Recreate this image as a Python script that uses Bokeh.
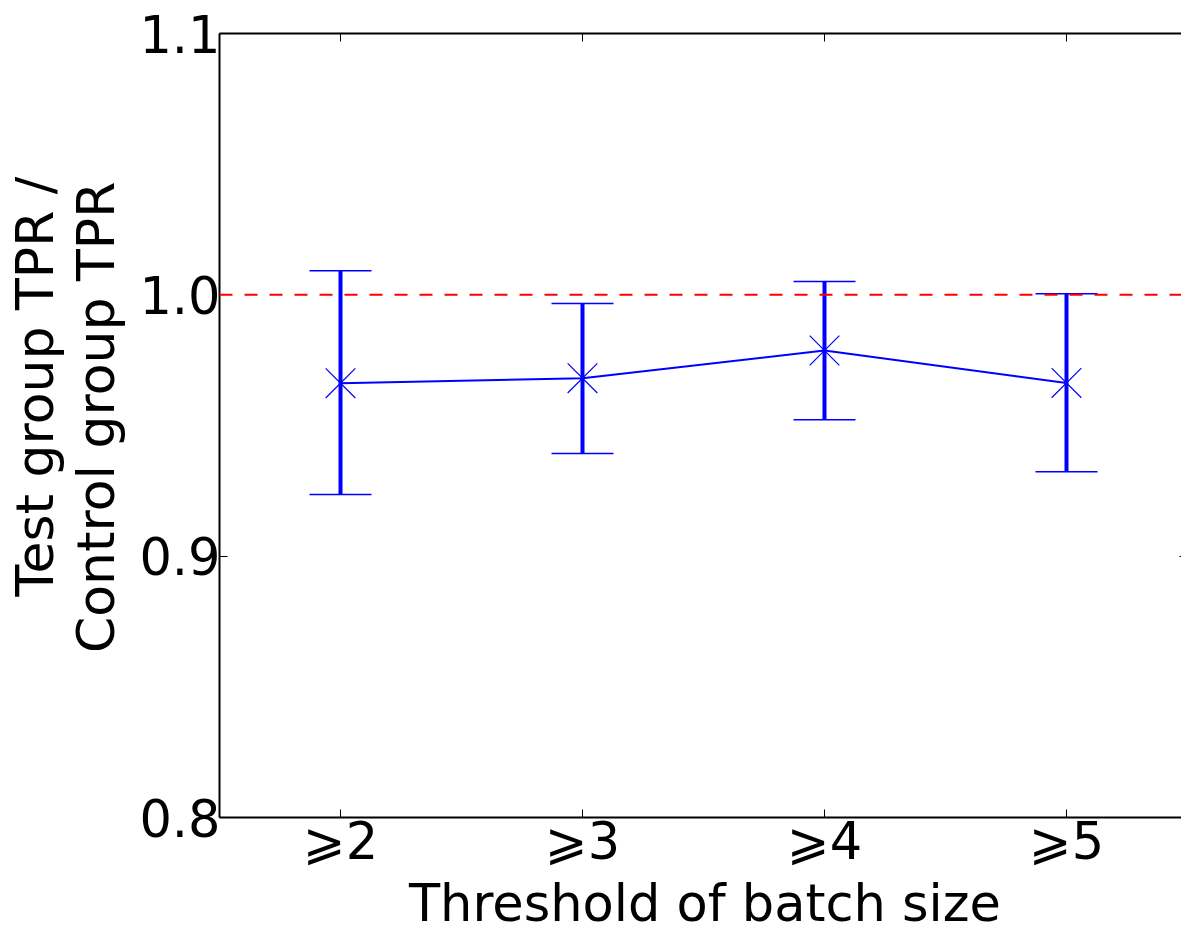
from bokeh.plotting import figure
from bokeh.models import (LinearAxis, FixedTicker, Span, Whisker, TeeHead,
                          ColumnDataSource, Range1d, CustomJSTickFormatter)
from bokeh.embed import file_html
from bokeh.resources import INLINE

# ---- data ----
x_pos = [2, 3, 4, 5]
x_labels = ["⩾2", "⩾3", "⩾4", "⩾5"]
ratio = [0.9662, 0.9681, 0.9787, 0.9663]
upper = [1.0092, 0.9967, 1.0051, 1.0004]
lower = [0.9236, 0.9393, 0.9522, 0.9323]
y_ticks = [0.8, 0.9, 1.0, 1.1]
y_tick_labels = ["0.8", "0.9", "1.0", "1.1"]
reference_value = 1.0
x_title = "Threshold of batch size"
y_title_line1 = "Test group TPR /"
y_title_line2 = "Control group TPR"

# ---- layout constants ----
FONT = "DejaVu Sans"
FS = "51px"
X0, X1 = 1.5, 5.5
Y0, Y1 = 0.8, 1.1
XTITLE_POS = 3.506      # centre of x title along the axis
YTITLE1_POS = 0.9649    # centre of first y title line
YTITLE2_POS = 0.9531    # centre of second y title line

src = ColumnDataSource(dict(x=x_pos, y=ratio, upper=upper, lower=lower))

p = figure(width=1187, height=957,
           x_range=Range1d(X0, X1), y_range=Range1d(Y0, Y1),
           output_backend="svg", toolbar_location=None,
           min_border_left=219, min_border_right=0,
           min_border_top=33, min_border_bottom=140)
p.outline_line_color = None
p.xgrid.visible = False
p.ygrid.visible = False
p.background_fill_color = "white"
p.border_fill_color = "white"

# bottom axis
xa = p.xaxis[0]
xa.ticker = FixedTicker(ticks=x_pos)
xa.major_label_overrides = {x: l for x, l in zip(x_pos, x_labels)}

# left axis
ya = p.yaxis[0]
ya.ticker = FixedTicker(ticks=y_ticks)
ya.major_label_overrides = {v: l for v, l in zip(y_ticks, y_tick_labels)}

for ax in (xa, ya):
    ax.axis_line_color = "black"
    ax.axis_line_width = 2
    ax.major_tick_in = 8
    ax.major_tick_out = 0
    ax.major_tick_line_color = "black"
    ax.minor_tick_line_color = None
    ax.major_label_text_font = FONT
    ax.major_label_text_font_size = FS
    ax.major_label_text_color = "black"
ya.major_label_standoff = -1
xa.major_label_standoff = -6


def title_axis(pos, text, standoff, vertical=False, size=FS):
    ax = LinearAxis(ticker=FixedTicker(ticks=[pos]),
                    formatter=CustomJSTickFormatter(code="return %r;" % text),
                    axis_line_color=None, major_tick_line_color=None,
                    minor_tick_line_color=None, major_tick_in=0, major_tick_out=0,
                    major_label_standoff=standoff,
                    major_label_text_font=FONT, major_label_text_font_size=size,
                    major_label_text_color="black")
    if vertical:
        ax.major_label_orientation = "vertical"
    return ax


# x title (stacked below the tick labels)
p.add_layout(title_axis(XTITLE_POS, x_title, 0), "below")
# y title, two lines stacked left of the tick labels
p.add_layout(title_axis(YTITLE2_POS, y_title_line2, 10, vertical=True, size="52px"), "left")
p.add_layout(title_axis(YTITLE1_POS, y_title_line1, -2, vertical=True, size="52px"), "left")

# top axis (ticks only)
top = LinearAxis(ticker=FixedTicker(ticks=x_pos), major_label_text_font_size="0px",
                 axis_line_width=2, major_tick_in=8, major_tick_out=0,
                 minor_tick_line_color=None)
top.major_label_text_color = None
p.add_layout(top, "above")

# right axis (ticks only)
right = LinearAxis(ticker=FixedTicker(ticks=y_ticks), major_label_text_font_size="0px",
                   axis_line_width=2, major_tick_in=8, major_tick_out=0,
                   major_label_standoff=0, minor_tick_line_color=None)
right.major_label_text_color = None
p.add_layout(right, "right")

# error bars
wh = Whisker(base="x", upper="upper", lower="lower", source=src,
             line_color="blue", line_width=4,
             upper_head=TeeHead(size=62, line_color="blue", line_width=1.5),
             lower_head=TeeHead(size=62, line_color="blue", line_width=1.5))
p.add_layout(wh)

p.line("x", "y", source=src, line_color="blue", line_width=2)
p.scatter("x", "y", source=src, marker="x", size=42, line_color="blue", line_width=1.2)

p.add_layout(Span(location=reference_value, dimension="width", line_color="red",
                  line_dash="13 12", line_width=2))

open("out.html", "w").write(file_html(p, INLINE))
